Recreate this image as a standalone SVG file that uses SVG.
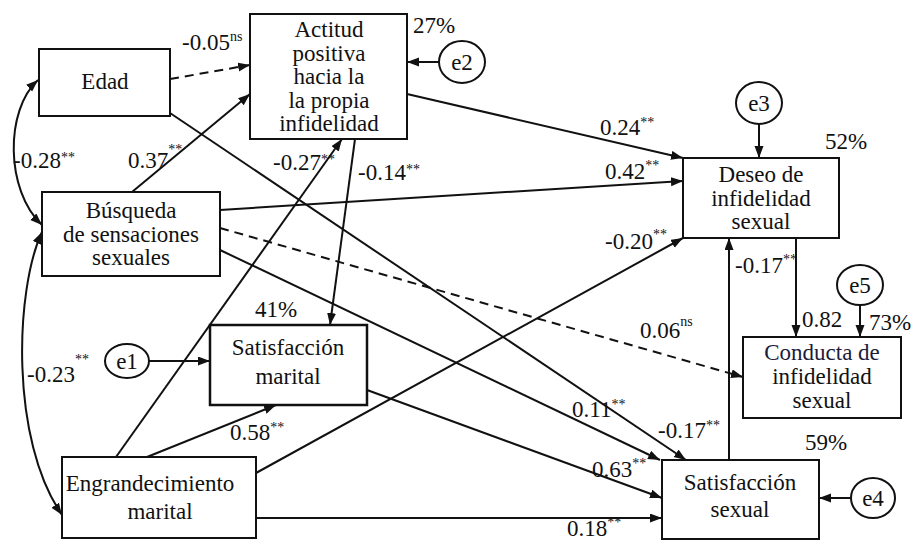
<svg xmlns="http://www.w3.org/2000/svg" width="911" height="540" viewBox="0 0 911 540">
<style>
text{font-family:"Times New Roman",Times,"Liberation Serif","Nimbus Roman","FreeSerif","DejaVu Serif",serif;fill:#111}
.n{font-size:23px;text-anchor:middle}
.l{font-size:23px}
.s{font-size:14px}
.box{fill:#fff;stroke:#111;stroke-width:2}
.ell{fill:#fff;stroke:#111;stroke-width:2}
.c{fill:none;stroke:#111;stroke-width:2;marker-end:url(#ah)}
.d{stroke-dasharray:9 6}
.cv{fill:none;stroke:#111;stroke-width:2;marker-start:url(#ah);marker-end:url(#ah)}
</style>
<defs>
<marker id="ah" markerUnits="userSpaceOnUse" markerWidth="13" markerHeight="10" refX="12" refY="4.5" orient="auto-start-reverse">
<path d="M0,0 L12,4.5 L0,9 z" fill="#111"/>
</marker>
</defs>
<rect width="911" height="540" fill="#fff"/>
<g id="connectors">
<path class="c d" d="M170,79 L250,65"/>
<path class="c" d="M132,192 L250,94"/>
<path class="c" d="M170,113 L686,460"/>
<path class="c" d="M220,250 L660,460"/>
<path class="c d" d="M220,228 L743,377"/>
<path class="c" d="M220,210 L683,181"/>
<path class="c" d="M407,94 L683,158"/>
<path class="c" d="M355,139 L330,325"/>
<path class="c" d="M116,457 L342,139"/>
<path class="c" d="M147,457 L276,405"/>
<path class="c" d="M256,473 L683,238"/>
<path class="c" d="M367,390 L662,498"/>
<path class="c" d="M256,518 L662,518"/>
<path class="c" d="M729,460 L729,238"/>
<path class="c" d="M796,238 L796,337"/>
<path class="c" d="M860,305 L860,337"/>
<path class="c" d="M759,124 L759,158"/>
<path class="c" d="M439,62 L407,62"/>
<path class="c" d="M851,498 L819,498"/>
<path class="c" d="M149,361 L210,361"/>
<path class="cv" d="M38,80 C5,110 5,190 42,225"/>
<path class="cv" d="M42,232 C15,290 10,440 62,515"/>
</g>
<g id="edad">
<rect class="box" x="39" y="49" width="131" height="67"/>
<text class="n" x="105" y="89">Edad</text>
</g>
<g id="actitud">
<rect class="box" x="250" y="14" width="157" height="125"/>
<text class="n" x="329" y="37">Actitud</text>
<text class="n" x="329" y="61">positiva</text>
<text class="n" x="329" y="84">hacia la</text>
<text class="n" x="329" y="108">la propia</text>
<text class="n" x="329" y="131">infidelidad</text>
</g>
<g id="busqueda">
<rect class="box" x="42" y="192" width="178" height="84"/>
<text class="n" x="131" y="218">Búsqueda</text>
<text class="n" x="131" y="242">de sensaciones</text>
<text class="n" x="131" y="265">sexuales</text>
</g>
<g id="satmarital">
<rect class="box" x="210" y="325" width="157" height="80" style="stroke-width:2.5"/>
<text class="n" x="288" y="355">Satisfacción</text>
<text class="n" x="288" y="384">marital</text>
</g>
<g id="engrandecimiento">
<rect class="box" x="62" y="457" width="194" height="81"/>
<text class="n" x="150" y="491">Engrandecimiento</text>
<text class="n" x="160" y="519">marital</text>
</g>
<g id="deseo">
<rect class="box" x="683" y="158" width="156" height="80"/>
<text class="n" x="761" y="182">Deseo de</text>
<text class="n" x="761" y="206">infidelidad</text>
<text class="n" x="761" y="229">sexual</text>
</g>
<g id="conducta">
<rect class="box" x="743" y="337" width="158" height="81"/>
<text class="n" x="822" y="360" style="fill:#1c1c3a">Conducta de</text>
<text class="n" x="822" y="384">infidelidad</text>
<text class="n" x="822" y="408">sexual</text>
</g>
<g id="satsexual">
<rect class="box" x="662" y="460" width="157" height="79"/>
<text class="n" x="740" y="490">Satisfacción</text>
<text class="n" x="740" y="517">sexual</text>
</g>
<g id="e1"><ellipse class="ell" cx="127" cy="361" rx="22" ry="17"/><text class="n" x="127" y="369">e1</text></g>
<g id="e2"><ellipse class="ell" cx="462" cy="62" rx="23" ry="21"/><text class="n" x="462" y="70">e2</text></g>
<g id="e3"><ellipse class="ell" cx="759" cy="103" rx="23" ry="21"/><text class="n" x="759" y="111">e3</text></g>
<g id="e4"><ellipse class="ell" cx="873" cy="498" rx="22" ry="20"/><text class="n" x="873" y="506">e4</text></g>
<g id="e5"><ellipse class="ell" cx="860" cy="285" rx="23" ry="20"/><text class="n" x="860" y="293">e5</text></g>
<g id="labels">
<text class="l" x="182" y="50">-0.05<tspan class="s" dy="-9">ns</tspan></text>
<text class="l" x="128" y="168">0.37<tspan class="s" dy="-14">**</tspan></text>
<text class="l" x="13" y="168">-0.28<tspan class="s" dy="-6">**</tspan></text>
<text class="l" x="273" y="170">-0.27<tspan class="s" dy="-6">**</tspan></text>
<text class="l" x="358" y="180">-0.14<tspan class="s" dy="-6">**</tspan></text>
<text class="l" x="413" y="33">27%</text>
<text class="l" x="600" y="135">0.24<tspan class="s" dy="-8">**</tspan></text>
<text class="l" x="825" y="149">52%</text>
<text class="l" x="605" y="179">0.42<tspan class="s" dy="-9">**</tspan></text>
<text class="l" x="605" y="249">-0.20<tspan class="s" dy="-10">**</tspan></text>
<text class="l" x="735" y="273">-0.17<tspan class="s" dy="-9">**</tspan></text>
<text class="l" x="802" y="327">0.82</text>
<text class="l" x="869" y="330">73%</text>
<text class="l" x="640" y="338">0.06<tspan class="s" dy="-12">ns</tspan></text>
<text class="l" x="572" y="417">0.11<tspan class="s" dy="-8">**</tspan></text>
<text class="l" x="658" y="438">-0.17<tspan class="s" dy="-8">**</tspan></text>
<text class="l" x="805" y="450">59%</text>
<text class="l" x="592" y="477">0.63<tspan class="s" dy="-9">**</tspan></text>
<text class="l" x="567" y="536">0.18<tspan class="s" dy="-9">**</tspan></text>
<text class="l" x="255" y="317">41%</text>
<text class="l" x="27" y="382">-0.23<tspan class="s" dy="-18">**</tspan></text>
<text class="l" x="230" y="440">0.58<tspan class="s" dy="-8">**</tspan></text>
</g>
</svg>
